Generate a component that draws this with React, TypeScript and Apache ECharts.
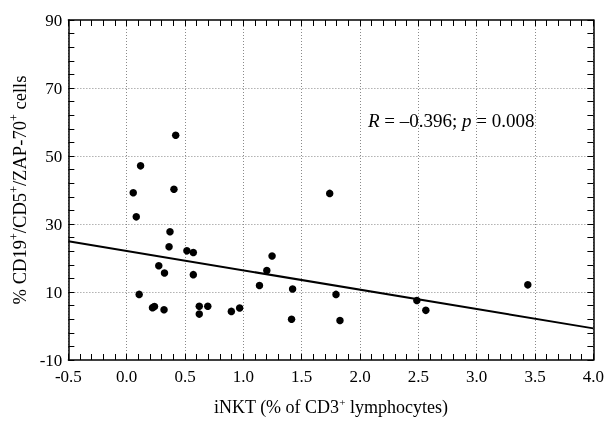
import { useEffect, useRef } from 'react';
import * as echarts from 'echarts';

const FONT = '"Liberation Serif", "Times New Roman", serif';

// iNKT (% of CD3+ lymphocytes)
const xValues = [0.056, 0.119, 0.42, 0.405, 1.74, 0.082, 0.107, 0.371, 0.363, 0.516, 0.571, 0.275, 0.324, 0.571, 0.221, 0.238, 0.32, 0.622, 0.622, 0.695, 0.897, 0.968, 1.138, 1.201, 1.246, 1.422, 1.413, 1.794, 1.828, 2.487, 2.564, 3.438];
// % CD19+/CD5+/ZAP-70+ cells
const yValues = [39.2, 47.1, 56.1, 40.2, 39.0, 32.1, 9.3, 27.7, 23.3, 22.1, 21.6, 17.7, 15.6, 15.1, 5.4, 5.7, 4.8, 5.8, 3.5, 5.8, 4.3, 5.3, 11.9, 16.3, 20.6, 10.9, 2.0, 9.3, 1.6, 7.5, 4.6, 12.1];
// regression line end points
const fitX = [-0.5, 4.0];
const fitY = [24.9, -0.7];

const yLabelValues = [-10, 10, 30, 50, 70, 90];
const yTickValues = [-10, -6, -2, 2, 6, 10, 14, 18, 22, 26, 30, 34, 38, 42, 46, 50, 54, 58, 62, 66, 70, 74, 78, 82, 86, 90];
const yGridValues = [10, 30, 50, 70];

const mkRich = (size: number) => ({
  n: { fontFamily: FONT, fontSize: size, color: '#000', lineHeight: size + 4 },
  s: { fontFamily: FONT, fontSize: Math.round(size * 0.62), color: '#000', lineHeight: Math.round(size * 0.62), verticalAlign: 'top' },
  i: { fontFamily: FONT, fontSize: size, color: '#000', lineHeight: size + 4, fontStyle: 'italic' },
});
const mkAxisLine = () => ({ show: true, onZero: false, lineStyle: { color: '#000', width: 1.5 } });
const mkTick = () => ({ show: true, inside: true, length: 6, lineStyle: { color: '#000', width: 1 } });
const mkMinor = () => ({ show: true, splitNumber: 5, length: 6, lineStyle: { color: '#000', width: 1 } });
const mkGrid = () => ({ show: true, lineStyle: { color: '#8a8a8a', width: 1, type: [1, 2] } });

export default function App() {
  const ref = useRef<HTMLDivElement>(null);
  useEffect(() => {
    if (!ref.current) return;
    const chart = echarts.init(ref.current, null, { renderer: 'svg' });
    chart.setOption({
      animation: false,
      grid: { left: 67, right: 11, top: 20, bottom: 62 },
      xAxis: [
        {
          type: 'value', min: -0.5, max: 4, interval: 0.5,
          position: 'bottom',
          axisLine: mkAxisLine(),
          axisTick: mkTick(),
          minorTick: mkMinor(),
          splitLine: mkGrid(),
          axisLabel: { color: '#000', fontFamily: FONT, fontSize: 17, margin: 8, formatter: (v: number) => v.toFixed(1) },
          name: '{n|iNKT (% of CD3}{s|+}{n| lymphocytes)}',
          nameLocation: 'middle',
          nameGap: 36,
          nameTextStyle: { rich: mkRich(18) },
        },
        {
          type: 'value', min: -0.5, max: 4, interval: 0.5,
          position: 'top',
          axisLine: mkAxisLine(),
          axisTick: mkTick(),
          minorTick: mkMinor(),
          splitLine: { show: false },
          axisLabel: { show: false },
        },
      ],
      yAxis: [
        {
          type: 'value', min: -10, max: 90,
          position: 'left',
          axisLine: mkAxisLine(),
          axisTick: { ...mkTick(), customValues: yTickValues },
          splitLine: { show: false },
          axisLabel: { color: '#000', fontFamily: FONT, fontSize: 17, margin: 6, customValues: yLabelValues },
          name: '{n|% CD19}{s|+}{n|/CD5}{s|+}{n|/ZAP-70}{s|+}{n| cells}',
          nameLocation: 'middle',
          nameRotate: 90,
          nameGap: 37,
          nameTextStyle: { rich: mkRich(18.6) },
        },
        {
          type: 'value', min: -10, max: 90,
          position: 'right',
          axisLine: mkAxisLine(),
          axisTick: { ...mkTick(), customValues: yTickValues },
          splitLine: { show: false },
          axisLabel: { show: false },
        },
        {
          type: 'value', min: -10, max: 90,
          position: 'left',
          axisLine: { show: false },
          axisTick: { show: false, customValues: yGridValues },
          splitLine: mkGrid(),
          axisLabel: { show: false },
        },
      ],
      graphic: [
        {
          type: 'text',
          left: 368,
          top: 111,
          style: {
            text: '{i|R}{n| = –0.396; }{i|p}{n| = 0.008}',
            rich: mkRich(19),
          },
        },
      ],
      series: [
        {
          type: 'line',
          xAxisIndex: 0,
          yAxisIndex: 0,
          data: fitX.map((x, i) => [x, fitY[i]]),
          showSymbol: false,
          symbol: 'none',
          lineStyle: { color: '#000', width: 2 },
          z: 3,
        },
        {
          type: 'scatter',
          xAxisIndex: 0,
          yAxisIndex: 0,
          data: xValues.map((x, i) => [x, yValues[i]]),
          symbolSize: 7.5,
          itemStyle: { color: '#000', opacity: 1 },
          z: 4,
        },
      ],
    });
    return () => chart.dispose();
  }, []);
  return <div ref={ref} style={{ position: 'fixed', left: 0, top: 0, width: 607, height: 422 }} />;
}
